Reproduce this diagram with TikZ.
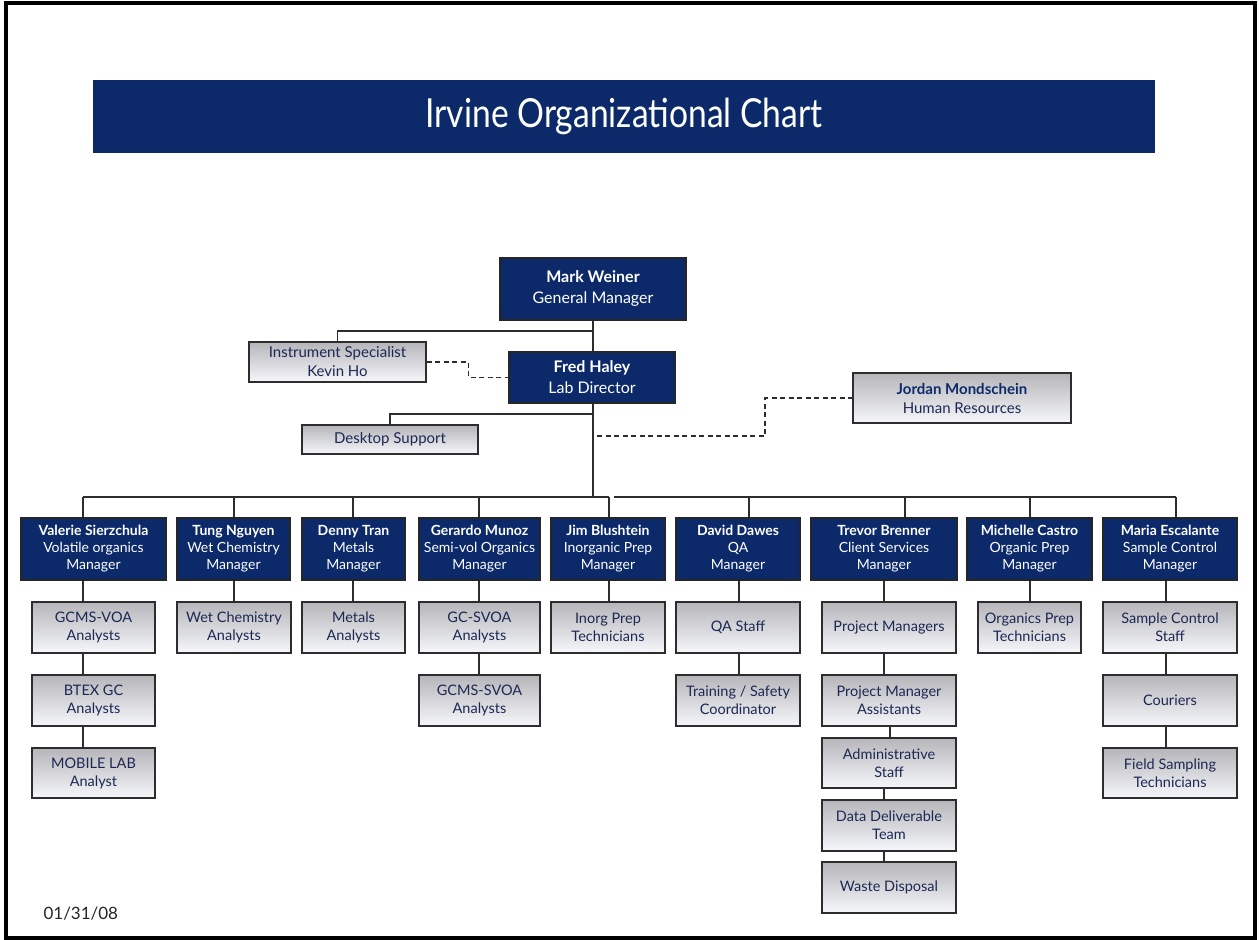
\documentclass[tikz,border=0pt]{standalone}
\usepackage{fontspec}
\setmainfont{Lato}
\newfontfamily\titlefont[FakeStretch=0.84]{Lato}
\usetikzlibrary{backgrounds}
\definecolor{navy}{RGB}{12,42,106}
\definecolor{boxtext}{RGB}{28,40,84}
\definecolor{gtop}{RGB}{182,182,186}
\definecolor{gbot}{RGB}{246,247,251}
\definecolor{linec}{RGB}{45,45,45}
\begin{document}
\begin{tikzpicture}[x=1pt,y=-1pt,
  mgr/.style={draw=black!85, line width=1.2pt, fill=navy, text=white, align=center, inner sep=0pt, minimum height=62pt, font=\fontsize{14}{17}\selectfont},
  headbox/.style={mgr, font=\fontsize{16}{21}\selectfont},
  sub/.style={draw=linec, line width=1.4pt, top color=gtop, bottom color=gbot, text=boxtext, align=center, inner sep=0pt, minimum height=51pt, font=\fontsize{14.5}{18}\selectfont},
  link/.style={draw=linec, line width=1.4pt},
  dlink/.style={link, dash pattern=on 5pt off 3.5pt}]
\useasboundingbox (0,0) rectangle (1259,940);

% title
\node[fill=navy, minimum width=1062pt, minimum height=73pt, inner sep=0pt, text=white,
  font=\titlefont\fontsize{40}{40}\selectfont] (title) at (624,116.5) {Irvine Organizational Chart};

% top
\node[headbox, minimum width=186pt] (mark) at (593,289) {{\bfseries Mark Weiner}\\General Manager};
\node[headbox, minimum width=166pt, minimum height=51pt] (fred) at (592,377.5) {{\bfseries Fred Haley}\\Lab Director};
\node[sub, minimum width=177pt, minimum height=40pt, font=\fontsize{15}{19}\selectfont] (inst) at (337.5,362) {Instrument Specialist\\Kevin Ho};
\node[sub, minimum width=176pt, minimum height=29pt, font=\fontsize{15}{19}\selectfont] (desk) at (390,439.5) {Desktop Support};
\node[sub, minimum width=218pt, minimum height=50pt, font=\fontsize{15}{19}\selectfont] (jordan) at (962,398) {{\bfseries\color{navy}Jordan Mondschein}\\Human Resources};

% managers
\node[mgr, minimum width=145pt] (val) at (93.5,549) {{\bfseries Valerie Sierzchula}\\Volatile organics\\Manager};
\node[mgr, minimum width=113pt] (tung) at (233.5,549) {{\bfseries Tung Nguyen}\\Wet Chemistry\\Manager};
\node[mgr, minimum width=103pt] (denny) at (353.5,549) {{\bfseries Denny Tran}\\Metals\\Manager};
\node[mgr, minimum width=121pt] (ger) at (479.5,549) {{\bfseries Gerardo Munoz}\\Semi-vol Organics\\Manager};
\node[mgr, minimum width=114pt] (jim) at (608,549) {{\bfseries Jim Blushtein}\\Inorganic Prep\\Manager};
\node[mgr, minimum width=124pt] (dav) at (738,549) {{\bfseries David Dawes}\\QA\\Manager};
\node[mgr, minimum width=146pt] (trev) at (884,549) {{\bfseries Trevor Brenner}\\Client Services\\Manager};
\node[mgr, minimum width=125pt] (mich) at (1029.5,549) {{\bfseries Michelle Castro}\\Organic Prep\\Manager};
\node[mgr, minimum width=134pt] (maria) at (1170,549) {{\bfseries Maria Escalante}\\Sample Control\\Manager};

% row 1
\node[sub, minimum width=123pt] (gcmsv) at (93.5,627.5) {GCMS-VOA\\Analysts};
\node[sub, minimum width=114pt] (wet) at (234,627.5) {Wet Chemistry\\Analysts};
\node[sub, minimum width=103pt] (met) at (353.5,627.5) {Metals\\Analysts};
\node[sub, minimum width=121pt] (gcs) at (479.5,627.5) {GC-SVOA\\Analysts};
\node[sub, minimum width=114pt] (inorg) at (608,627.5) {Inorg Prep\\Technicians};
\node[sub, minimum width=124pt] (qa) at (738,627.5) {QA Staff};
\node[sub, minimum width=134pt] (pm) at (889,627.5) {Project Managers};
\node[sub, minimum width=103pt] (orgp) at (1029.5,627.5) {Organics Prep\\Technicians};
\node[sub, minimum width=134pt] (scs) at (1170,627.5) {Sample Control\\Staff};

% row 2
\node[sub, minimum width=123pt] (btex) at (93.5,700.5) {BTEX GC\\Analysts};
\node[sub, minimum width=121pt] (gcmss) at (479.5,700.5) {GCMS-SVOA\\Analysts};
\node[sub, minimum width=124pt] (train) at (738,700.5) {Training / Safety\\Coordinator};
\node[sub, minimum width=134pt] (pma) at (889,700.5) {Project Manager\\Assistants};
\node[sub, minimum width=134pt] (cour) at (1170,700.5) {Couriers};

% lower
\node[sub, minimum width=123pt, minimum height=50pt] (mob) at (93.5,773) {MOBILE LAB\\Analyst};
\node[sub, minimum width=134pt, minimum height=50pt] (field) at (1170,773) {Field Sampling\\Technicians};
\node[sub, minimum width=134pt, minimum height=50pt] (adm) at (889,763) {Administrative\\Staff};
\node[sub, minimum width=134pt] (data) at (889,825.5) {Data Deliverable\\Team};
\node[sub, minimum width=134pt] (waste) at (889,887.5) {Waste Disposal};

\node[anchor=west, text=black!85, font=\fontsize{17}{17}\selectfont] (date) at (40,914) {01/31/08};

\begin{scope}[on background layer]
  \fill[white] (0,0) rectangle (1259,940);
  \draw[line width=4.5pt] (6,3) rectangle (1255,938);
  \coordinate (t0) at (593,497);
  \coordinate (j1) at (593,331);
  \coordinate (j2) at (593,414);
  \coordinate (j3) at (597,436);
  \coordinate (k3) at (765,436);
  \draw[link] (mark.south) -- (t0);
  \draw[link] (j1) -| (inst.north);
  \draw[link] (j2) -| (desk.north);
  \draw[dlink] (inst.east) -- ++(42,0) |- (fred.west);
  \draw[dlink] (j3) -- (k3) |- (jordan.west);
  % bars
  \coordinate (b1) at (83,497);
  \coordinate (b2) at (234,497);
  \coordinate (b3) at (353,497);
  \coordinate (b4) at (479,497);
  \coordinate (b5) at (609,497);
  \coordinate (bR) at (614,497);
  \coordinate (b6) at (749,497);
  \coordinate (b7) at (905,497);
  \coordinate (b8) at (1030,497);
  \coordinate (b9) at (1176,497);
  \draw[link] (b1) -- (b5);
  \draw[link] (bR) -- (b9);
  \foreach \b/\m in {b1/val,b2/tung,b3/denny,b4/ger,b5/jim,b6/dav,b7/trev,b8/mich,b9/maria}
    \draw[link] (\b) -- (\b |- \m.north);
  % columns
  \draw[link] (val.south -| b1) -- (gcmsv.north -| b1);
  \draw[link] (gcmsv.south -| b1) -- (btex.north -| b1);
  \draw[link] (btex.south -| b1) -- (mob.north -| b1);
  \draw[link] (tung.south -| b2) -- (wet.north -| b2);
  \draw[link] (denny.south -| b3) -- (met.north -| b3);
  \draw[link] (ger.south -| b4) -- (gcs.north -| b4);
  \draw[link] (gcs.south -| b4) -- (gcmss.north -| b4);
  \draw[link] (jim.south -| b5) -- (inorg.north -| b5);
  \draw[link] ([xshift=1pt]dav.south) -- ([xshift=1pt]qa.north);
  \draw[link] ([xshift=1pt]qa.south) -- ([xshift=1pt]train.north);
  \draw[link] (trev.south) -- (trev.south |- pm.north);
  \draw[link] (trev.south |- pm.south) -- (trev.south |- pma.north);
  \draw[link] ([xshift=1pt]pma.south) -- ([xshift=1pt]adm.north);
  \draw[link] (trev.south |- adm.south) -- (trev.south |- data.north);
  \draw[link] (trev.south |- data.south) -- (trev.south |- waste.north);
  \draw[link] (mich.south -| b8) -- (orgp.north -| b8);
  \draw[link] ([xshift=-4pt]maria.south) -- ([xshift=-4pt]scs.north);
  \draw[link] ([xshift=-4pt]scs.south) -- ([xshift=-4pt]cour.north);
  \draw[link] ([xshift=-4pt]cour.south) -- ([xshift=-4pt]field.north);
\end{scope}
\end{tikzpicture}
\end{document}
